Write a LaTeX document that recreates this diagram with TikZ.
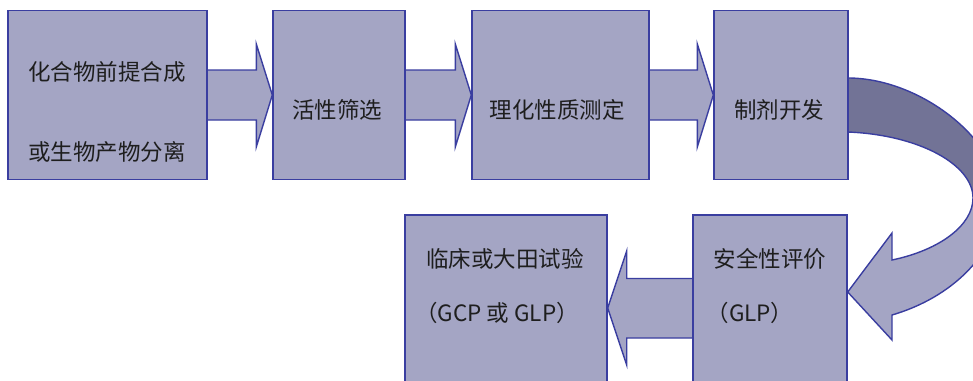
\documentclass[tikz,border=0pt]{standalone}
\usepackage{fontspec}
\setmainfont{Noto Sans CJK SC}
\usetikzlibrary{calc}
\definecolor{boxfill}{RGB}{164,165,196}
\definecolor{darkfill}{RGB}{114,115,150}
\definecolor{edgeblue}{RGB}{58,62,160}
\definecolor{txt}{RGB}{30,30,30}
\pgfdeclarelayer{background}
\pgfsetlayers{background,main}
\tikzset{
  box/.style={draw=edgeblue, fill=boxfill, line width=1.4pt, inner sep=0pt},
  blockarrow/.style={draw=edgeblue, fill=boxfill, line width=1.4pt, line join=miter},
  lbl/.style={text=txt, font=\fontsize{22.5}{26}\selectfont, inner sep=0pt, anchor=center},
}
\newcommand\mybandpath{(848,78) .. controls (920,78) and (1000,140) .. (1000,200)
  .. controls (1000,245) and (960,295) .. (892,315)
  -- (892,340) -- ($(b6.east)+(0,-16)$) -- (892,233) -- (892,260)
  .. controls (940,250) and (973,225) .. (973,198)
  .. controls (973,165) and (920,135) .. (848,132) -- cycle}
\begin{document}
\begin{tikzpicture}[x=1pt,y=-1pt]
\useasboundingbox (0,0) rectangle (973,380);
\clip (0,0) rectangle (973,380);
% boxes
\node[box, minimum width=199pt, minimum height=169pt] (b1) at (107.5,95) {};
\node[box, minimum width=132pt, minimum height=169pt] (b2) at (339,95) {};
\node[box, minimum width=177pt, minimum height=169pt] (b3) at (560.5,95) {};
\node[box, minimum width=134pt, minimum height=169pt] (b4) at (781,95) {};
\node[box, minimum width=202pt, minimum height=186pt] (b5) at (506,308) {};
\node[box, minimum width=154pt, minimum height=186pt] (b6) at (770,308) {};
% labels
\node[lbl, anchor=west] (t1a) at (28,72) {化合物前提合成};
\node[lbl, anchor=west] (t1b) at (28,152) {或生物产物分离};
\node[lbl] (t2) at (337,110) {活性筛选};
\node[lbl] (t3) at (557,110) {理化性质测定};
\node[lbl] (t4) at (779,110) {制剂开发};
\node[lbl] (t5a) at (505,259) {临床或大田试验};
\node[lbl] (t5b) at (497,313) {（GCP 或 GLP）};
\node[lbl] (t6a) at (770,259) {安全性评价};
\node[lbl] (t6b) at (750,313) {（GLP）};
\begin{pgfonlayer}{background}
% straight block arrows
\foreach \a/\b in {b1/b2, b2/b3, b3/b4}{
  \filldraw[blockarrow] ($(\a.east)+(-3,-25)$) -- ($(\b.west)+(-16,-25)$) -- ($(\b.west)+(-16,-51)$)
    -- (\b.west) -- ($(\b.west)+(-16,52)$) -- ($(\b.west)+(-16,25)$) -- ($(\a.east)+(-3,25)$) -- cycle;
}
\filldraw[blockarrow] ($(b6.west)+(3,-29.5)$) -- ($(b5.east)+(19,-29.5)$) -- ($(b5.east)+(19,-57)$)
  -- (b5.east) -- ($(b5.east)+(19,57)$) -- ($(b5.east)+(19,30)$) -- ($(b6.west)+(3,30)$) -- cycle;
% curved arrow
\begin{scope}
  \clip (0,0) rectangle (973,200);
  \fill[darkfill] \mybandpath;
\end{scope}
\begin{scope}
  \clip (0,200) rectangle (973,380);
  \fill[boxfill] \mybandpath;
\end{scope}
\draw[edgeblue, line width=1.4pt, line join=miter] \mybandpath;
\end{pgfonlayer}
\end{tikzpicture}
\end{document}
